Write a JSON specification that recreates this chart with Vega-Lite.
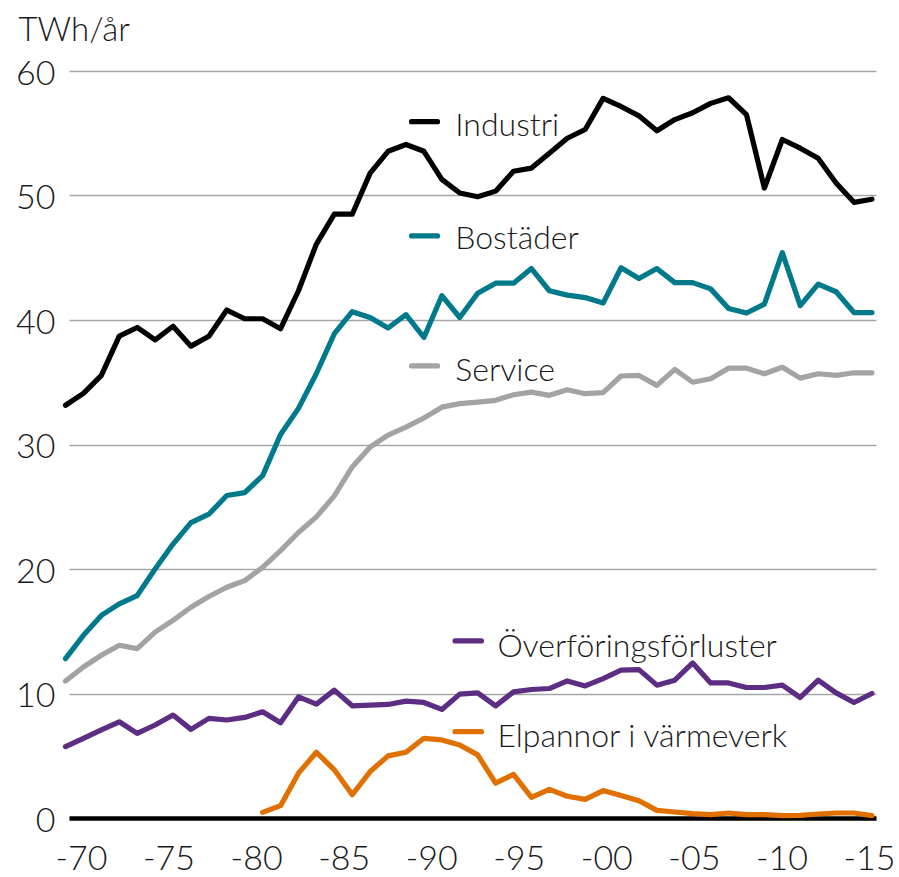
{
  "$schema": "https://vega.github.io/schema/vega-lite/v6.json",
  "autosize": {"type": "none"},
  "padding": {"left": 69, "top": 71, "right": 23, "bottom": 59},
  "width": 807,
  "height": 747,
  "background": "white",
  "config": {
    "font": "Lato",
    "view": {"stroke": null},
    "axis": {"labelFont": "Lato", "titleFont": "Lato"}
  },
  "datasets": {
    "main": [
      {"year":1970,"series":"Industri","value":33.15},{"year":1971,"series":"Industri","value":34.1},{"year":1972,"series":"Industri","value":35.55},{"year":1973,"series":"Industri","value":38.7},{"year":1974,"series":"Industri","value":39.4},{"year":1975,"series":"Industri","value":38.4},{"year":1976,"series":"Industri","value":39.5},{"year":1977,"series":"Industri","value":37.9},{"year":1978,"series":"Industri","value":38.7},{"year":1979,"series":"Industri","value":40.8},{"year":1980,"series":"Industri","value":40.1},{"year":1981,"series":"Industri","value":40.1},{"year":1982,"series":"Industri","value":39.3},{"year":1983,"series":"Industri","value":42.35},{"year":1984,"series":"Industri","value":46.1},{"year":1985,"series":"Industri","value":48.5},{"year":1986,"series":"Industri","value":48.5},{"year":1987,"series":"Industri","value":51.8},{"year":1988,"series":"Industri","value":53.55},{"year":1989,"series":"Industri","value":54.1},{"year":1990,"series":"Industri","value":53.55},{"year":1991,"series":"Industri","value":51.3},{"year":1992,"series":"Industri","value":50.2},{"year":1993,"series":"Industri","value":49.9},{"year":1994,"series":"Industri","value":50.35},{"year":1995,"series":"Industri","value":51.95},{"year":1996,"series":"Industri","value":52.2},{"year":1997,"series":"Industri","value":53.4},{"year":1998,"series":"Industri","value":54.6},{"year":1999,"series":"Industri","value":55.3},{"year":2000,"series":"Industri","value":57.8},{"year":2001,"series":"Industri","value":57.15},{"year":2002,"series":"Industri","value":56.4},{"year":2003,"series":"Industri","value":55.2},{"year":2004,"series":"Industri","value":56.1},{"year":2005,"series":"Industri","value":56.65},{"year":2006,"series":"Industri","value":57.4},{"year":2007,"series":"Industri","value":57.85},{"year":2008,"series":"Industri","value":56.5},{"year":2009,"series":"Industri","value":50.6},{"year":2010,"series":"Industri","value":54.5},{"year":2011,"series":"Industri","value":53.8},{"year":2012,"series":"Industri","value":53.0},{"year":2013,"series":"Industri","value":51.0},{"year":2014,"series":"Industri","value":49.45},{"year":2015,"series":"Industri","value":49.7},
      {"year":1970,"series":"Bostäder","value":12.8},{"year":1971,"series":"Bostäder","value":14.67},{"year":1972,"series":"Bostäder","value":16.27},{"year":1973,"series":"Bostäder","value":17.2},{"year":1974,"series":"Bostäder","value":17.87},{"year":1975,"series":"Bostäder","value":20.0},{"year":1976,"series":"Bostäder","value":22.0},{"year":1977,"series":"Bostäder","value":23.73},{"year":1978,"series":"Bostäder","value":24.4},{"year":1979,"series":"Bostäder","value":25.9},{"year":1980,"series":"Bostäder","value":26.13},{"year":1981,"series":"Bostäder","value":27.5},{"year":1982,"series":"Bostäder","value":30.8},{"year":1983,"series":"Bostäder","value":32.9},{"year":1984,"series":"Bostäder","value":35.7},{"year":1985,"series":"Bostäder","value":38.9},{"year":1986,"series":"Bostäder","value":40.67},{"year":1987,"series":"Bostäder","value":40.2},{"year":1988,"series":"Bostäder","value":39.36},{"year":1989,"series":"Bostäder","value":40.43},{"year":1990,"series":"Bostäder","value":38.6},{"year":1991,"series":"Bostäder","value":41.95},{"year":1992,"series":"Bostäder","value":40.2},{"year":1993,"series":"Bostäder","value":42.15},{"year":1994,"series":"Bostäder","value":42.96},{"year":1995,"series":"Bostäder","value":42.96},{"year":1996,"series":"Bostäder","value":44.13},{"year":1997,"series":"Bostäder","value":42.35},{"year":1998,"series":"Bostäder","value":42.0},{"year":1999,"series":"Bostäder","value":41.8},{"year":2000,"series":"Bostäder","value":41.36},{"year":2001,"series":"Bostäder","value":44.2},{"year":2002,"series":"Bostäder","value":43.33},{"year":2003,"series":"Bostäder","value":44.13},{"year":2004,"series":"Bostäder","value":43.0},{"year":2005,"series":"Bostäder","value":43.0},{"year":2006,"series":"Bostäder","value":42.5},{"year":2007,"series":"Bostäder","value":40.93},{"year":2008,"series":"Bostäder","value":40.56},{"year":2009,"series":"Bostäder","value":41.28},{"year":2010,"series":"Bostäder","value":45.41},{"year":2011,"series":"Bostäder","value":41.15},{"year":2012,"series":"Bostäder","value":42.88},{"year":2013,"series":"Bostäder","value":42.27},{"year":2014,"series":"Bostäder","value":40.6},{"year":2015,"series":"Bostäder","value":40.6},
      {"year":1970,"series":"Service","value":11.0},{"year":1971,"series":"Service","value":12.13},{"year":1972,"series":"Service","value":13.07},{"year":1973,"series":"Service","value":13.87},{"year":1974,"series":"Service","value":13.6},{"year":1975,"series":"Service","value":14.93},{"year":1976,"series":"Service","value":15.87},{"year":1977,"series":"Service","value":16.93},{"year":1978,"series":"Service","value":17.79},{"year":1979,"series":"Service","value":18.53},{"year":1980,"series":"Service","value":19.07},{"year":1981,"series":"Service","value":20.13},{"year":1982,"series":"Service","value":21.47},{"year":1983,"series":"Service","value":22.93},{"year":1984,"series":"Service","value":24.19},{"year":1985,"series":"Service","value":25.87},{"year":1986,"series":"Service","value":28.2},{"year":1987,"series":"Service","value":29.8},{"year":1988,"series":"Service","value":30.75},{"year":1989,"series":"Service","value":31.4},{"year":1990,"series":"Service","value":32.13},{"year":1991,"series":"Service","value":33.0},{"year":1992,"series":"Service","value":33.28},{"year":1993,"series":"Service","value":33.41},{"year":1994,"series":"Service","value":33.55},{"year":1995,"series":"Service","value":34.0},{"year":1996,"series":"Service","value":34.21},{"year":1997,"series":"Service","value":33.95},{"year":1998,"series":"Service","value":34.4},{"year":1999,"series":"Service","value":34.08},{"year":2000,"series":"Service","value":34.16},{"year":2001,"series":"Service","value":35.5},{"year":2002,"series":"Service","value":35.55},{"year":2003,"series":"Service","value":34.75},{"year":2004,"series":"Service","value":36.03},{"year":2005,"series":"Service","value":35.0},{"year":2006,"series":"Service","value":35.28},{"year":2007,"series":"Service","value":36.13},{"year":2008,"series":"Service","value":36.13},{"year":2009,"series":"Service","value":35.68},{"year":2010,"series":"Service","value":36.21},{"year":2011,"series":"Service","value":35.33},{"year":2012,"series":"Service","value":35.68},{"year":2013,"series":"Service","value":35.55},{"year":2014,"series":"Service","value":35.76},{"year":2015,"series":"Service","value":35.76},
      {"year":1970,"series":"Överföringsförluster","value":5.73},{"year":1971,"series":"Överföringsförluster","value":6.4},{"year":1972,"series":"Överföringsförluster","value":7.07},{"year":1973,"series":"Överföringsförluster","value":7.73},{"year":1974,"series":"Överföringsförluster","value":6.8},{"year":1975,"series":"Överföringsförluster","value":7.47},{"year":1976,"series":"Överföringsförluster","value":8.27},{"year":1977,"series":"Överföringsförluster","value":7.12},{"year":1978,"series":"Överföringsförluster","value":8.0},{"year":1979,"series":"Överföringsförluster","value":7.87},{"year":1980,"series":"Överföringsförluster","value":8.08},{"year":1981,"series":"Överföringsförluster","value":8.53},{"year":1982,"series":"Överföringsförluster","value":7.65},{"year":1983,"series":"Överföringsförluster","value":9.73},{"year":1984,"series":"Överföringsförluster","value":9.15},{"year":1985,"series":"Överföringsförluster","value":10.27},{"year":1986,"series":"Överföringsförluster","value":9.01},{"year":1987,"series":"Överföringsförluster","value":9.07},{"year":1988,"series":"Överföringsförluster","value":9.12},{"year":1989,"series":"Överföringsförluster","value":9.39},{"year":1990,"series":"Överföringsförluster","value":9.28},{"year":1991,"series":"Överföringsförluster","value":8.72},{"year":1992,"series":"Överföringsförluster","value":9.95},{"year":1993,"series":"Överföringsförluster","value":10.05},{"year":1994,"series":"Överföringsförluster","value":9.01},{"year":1995,"series":"Överföringsförluster","value":10.13},{"year":1996,"series":"Överföringsförluster","value":10.32},{"year":1997,"series":"Överföringsförluster","value":10.4},{"year":1998,"series":"Överföringsförluster","value":11.01},{"year":1999,"series":"Överföringsförluster","value":10.61},{"year":2000,"series":"Överföringsförluster","value":11.2},{"year":2001,"series":"Överföringsförluster","value":11.87},{"year":2002,"series":"Överföringsförluster","value":11.92},{"year":2003,"series":"Överföringsförluster","value":10.67},{"year":2004,"series":"Överföringsförluster","value":11.07},{"year":2005,"series":"Överföringsförluster","value":12.45},{"year":2006,"series":"Överföringsförluster","value":10.85},{"year":2007,"series":"Överföringsförluster","value":10.85},{"year":2008,"series":"Överföringsförluster","value":10.48},{"year":2009,"series":"Överföringsförluster","value":10.48},{"year":2010,"series":"Överföringsförluster","value":10.67},{"year":2011,"series":"Överföringsförluster","value":9.68},{"year":2012,"series":"Överföringsförluster","value":11.07},{"year":2013,"series":"Överföringsförluster","value":10.05},{"year":2014,"series":"Överföringsförluster","value":9.28},{"year":2015,"series":"Överföringsförluster","value":10.0},
      {"year":1981,"series":"Elpannor i värmeverk","value":0.45},{"year":1982,"series":"Elpannor i värmeverk","value":0.99},{"year":1983,"series":"Elpannor i värmeverk","value":3.6},{"year":1984,"series":"Elpannor i värmeverk","value":5.28},{"year":1985,"series":"Elpannor i värmeverk","value":3.87},{"year":1986,"series":"Elpannor i värmeverk","value":1.87},{"year":1987,"series":"Elpannor i värmeverk","value":3.73},{"year":1988,"series":"Elpannor i värmeverk","value":4.99},{"year":1989,"series":"Elpannor i värmeverk","value":5.28},{"year":1990,"series":"Elpannor i värmeverk","value":6.4},{"year":1991,"series":"Elpannor i värmeverk","value":6.27},{"year":1992,"series":"Elpannor i värmeverk","value":5.87},{"year":1993,"series":"Elpannor i värmeverk","value":5.07},{"year":1994,"series":"Elpannor i värmeverk","value":2.8},{"year":1995,"series":"Elpannor i värmeverk","value":3.5},{"year":1996,"series":"Elpannor i värmeverk","value":1.65},{"year":1997,"series":"Elpannor i värmeverk","value":2.3},{"year":1998,"series":"Elpannor i värmeverk","value":1.75},{"year":1999,"series":"Elpannor i värmeverk","value":1.5},{"year":2000,"series":"Elpannor i värmeverk","value":2.2},{"year":2001,"series":"Elpannor i värmeverk","value":1.8},{"year":2002,"series":"Elpannor i värmeverk","value":1.38},{"year":2003,"series":"Elpannor i värmeverk","value":0.61},{"year":2004,"series":"Elpannor i värmeverk","value":0.48},{"year":2005,"series":"Elpannor i värmeverk","value":0.35},{"year":2006,"series":"Elpannor i värmeverk","value":0.27},{"year":2007,"series":"Elpannor i värmeverk","value":0.4},{"year":2008,"series":"Elpannor i värmeverk","value":0.27},{"year":2009,"series":"Elpannor i värmeverk","value":0.27},{"year":2010,"series":"Elpannor i värmeverk","value":0.19},{"year":2011,"series":"Elpannor i värmeverk","value":0.21},{"year":2012,"series":"Elpannor i värmeverk","value":0.32},{"year":2013,"series":"Elpannor i värmeverk","value":0.4},{"year":2014,"series":"Elpannor i värmeverk","value":0.4},{"year":2015,"series":"Elpannor i värmeverk","value":0.19}
    ],
    "legend": [
      {"series":"Industri","x1":1989.31,"x2":1990.76,"ly":55.93,"tx":1991.75,"ty":54.78},
      {"series":"Bostäder","x1":1989.31,"x2":1990.76,"ly":46.75,"tx":1991.75,"ty":45.68},
      {"series":"Service","x1":1989.31,"x2":1990.76,"ly":36.31,"tx":1991.75,"ty":35.1},
      {"series":"Överföringsförluster","x1":1991.74,"x2":1993.21,"ly":14.22,"tx":1994.1,"ty":12.93},
      {"series":"Elpannor i värmeverk","x1":1991.74,"x2":1993.21,"ly":6.93,"tx":1994.1,"ty":5.73}
    ]
  },
  "layer": [
    {
      "data": {"name": "main"},
      "mark": {"type": "point", "opacity": 0},
      "encoding": {
        "x": {
          "field": "year", "type": "quantitative",
          "scale": {"domain": [1969.315, 2015.4], "nice": false, "zero": false},
          "axis": {
            "orient": "bottom",
            "values": [1970, 1975, 1980, 1985, 1990, 1995, 2000, 2005, 2010, 2015],
            "labelExpr": "'-' + slice(format(datum.value, 'd'), 2)",
            "title": null,
            "grid": false,
            "ticks": false,
            "tickSize": 0,
            "domain": true,
            "domainColor": "#000000",
            "domainWidth": 4.5,
            "domainCap": "butt",
            "labelFontSize": 34,
            "labelFontWeight": 300,
            "labelColor": "#1a1a1a",
            "labelPadding": 51,
            "labelBaseline": "alphabetic",
            "labelAlign": "center",
            "labelFlush": false,
            "labelOverlap": false
          }
        },
        "y": {
          "field": "value", "type": "quantitative",
          "scale": {"domain": [0, 60], "nice": false},
          "axis": {
            "orient": "left",
            "values": [0, 10, 20, 30, 40, 50, 60],
            "format": "d",
            "grid": true,
            "gridColor": "#a6a6a6",
            "gridWidth": 1.5,
            "domain": false,
            "ticks": false,
            "tickSize": 0,
            "labelFontSize": 34,
            "labelFontWeight": 300,
            "labelColor": "#1a1a1a",
            "labelPadding": 14,
            "labelBaseline": "alphabetic",
            "labelOffset": 13,
            "labelFlush": false,
            "labelOverlap": false,
            "title": "TWh/år",
            "titleAngle": 0,
            "titleAlign": "left",
            "titleBaseline": "alphabetic",
            "titleX": -51,
            "titleY": -31,
            "titleFontSize": 33,
            "titleFontWeight": 300,
            "titleColor": "#1a1a1a"
          }
        }
      }
    },
    {
      "data": {"name": "main"},
      "mark": {"type": "line", "strokeWidth": 5.2, "strokeJoin": "round", "strokeCap": "round"},
      "encoding": {
        "x": {"field": "year", "type": "quantitative", "scale": {"domain": [1970.195, 2015.228], "nice": false, "zero": false}, "axis": null},
        "y": {"field": "value", "type": "quantitative", "scale": {"domain": [0, 60], "nice": false}, "axis": null},
        "color": {
          "field": "series", "type": "nominal",
          "scale": {
            "domain": ["Industri", "Bostäder", "Service", "Överföringsförluster", "Elpannor i värmeverk"],
            "range": ["#000000", "#007a8a", "#a3a3a3", "#5c2d82", "#e07000"]
          },
          "legend": null
        },
        "order": {"field": "year", "type": "quantitative"}
      }
    },
    {
      "data": {"name": "legend"},
      "mark": {"type": "rule", "strokeWidth": 5.2, "strokeCap": "round"},
      "encoding": {
        "x": {"field": "x1", "type": "quantitative", "scale": {"domain": [1970.195, 2015.228], "nice": false, "zero": false}, "axis": null},
        "x2": {"field": "x2"},
        "y": {"field": "ly", "type": "quantitative", "scale": {"domain": [0, 60], "nice": false}, "axis": null},
        "color": {"field": "series", "type": "nominal", "legend": null}
      }
    },
    {
      "data": {"name": "legend"},
      "mark": {"type": "text", "align": "left", "baseline": "alphabetic", "fontSize": 32, "fontWeight": 300, "font": "Lato", "color": "#1a1a1a"},
      "encoding": {
        "x": {"field": "tx", "type": "quantitative", "scale": {"domain": [1970.195, 2015.228], "nice": false, "zero": false}, "axis": null},
        "y": {"field": "ty", "type": "quantitative", "scale": {"domain": [0, 60], "nice": false}, "axis": null},
        "text": {"field": "series"}
      }
    }
  ],
  "resolve": {"scale": {"x": "independent"}, "axis": {"y": "independent"}}
}
